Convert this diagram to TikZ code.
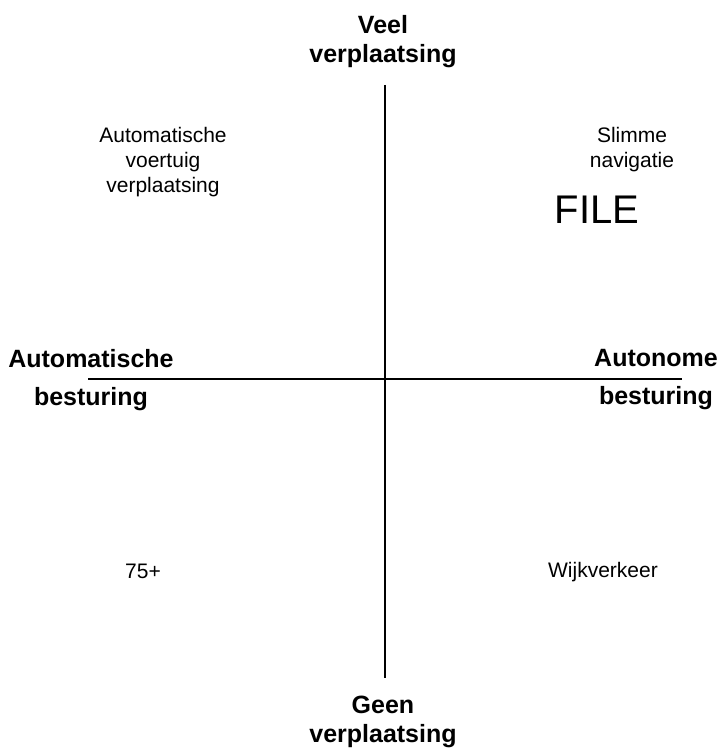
\documentclass[tikz,border=0pt]{standalone}
\usepackage{fontspec}
\setmainfont{Liberation Sans}
\usepackage{tikz}

\tikzset{
  axis/.style={line width=2.6pt},
  pole/.style={font=\bfseries\fontsize{25}{29}\selectfont, align=center, inner sep=0pt},
  sidepole/.style={font=\bfseries\fontsize{25}{38}\selectfont, align=center, inner sep=0pt},
  quadlabel/.style={font=\fontsize{21}{25}\selectfont, align=center, inner sep=0pt}
}

\begin{document}
\begin{tikzpicture}[x=1pt,y=-1pt]
\useasboundingbox (0,0) rectangle (721,749);
% axes
\coordinate (top) at (385,85);
\coordinate (bottom) at (385,678);
\coordinate (left) at (88,379);
\coordinate (right) at (682,379);
\draw[axis] (top)--(bottom);
\draw[axis] (left)--(right);
% poles
\node[pole] (veel) at (383,42) {Veel\\verplaatsing};
\node[pole] (geen) at (383,722) {Geen\\verplaatsing};
\node[sidepole] (automatisch) at (91,380) {Automatische\\besturing};
\node[sidepole] (autonoom) at (656,380) {Autonome\\besturing};
% quadrants
\node[quadlabel] (voertuig) at (163,162) {Automatische\\voertuig\\verplaatsing};
\node[quadlabel] (navigatie) at (632,150) {Slimme\\navigatie};
\node[inner sep=0pt, anchor=base, font=\fontsize{40}{46}\selectfont] (file) at (597,223) {FILE};
\node[quadlabel, anchor=base] (senior) at (143,578) {75+};
\node[quadlabel, anchor=base] (wijk) at (603,577) {Wijkverkeer};
\end{tikzpicture}
\end{document}
